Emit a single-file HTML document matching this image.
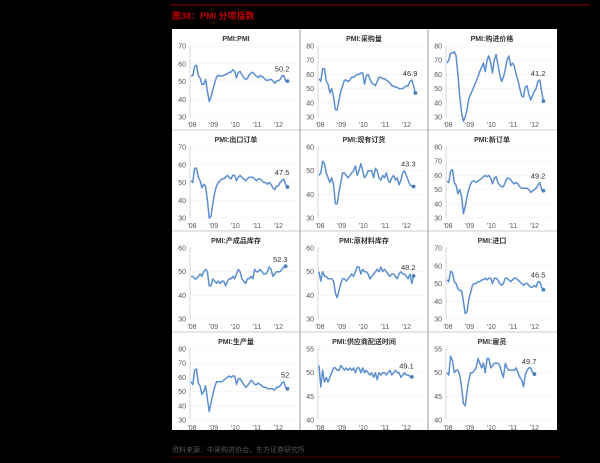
<!DOCTYPE html>
<html><head><meta charset="utf-8"><style>
body{margin:0;background:#000;width:600px;height:463px;overflow:hidden;font-family:"Liberation Sans","Noto Sans CJK SC",sans-serif}
</style></head><body>
<svg id="s" width="600" height="463" xmlns="http://www.w3.org/2000/svg" style="position:absolute;left:0;top:0">
<rect width="600" height="463" fill="#000"/>
<line x1="170" y1="5" x2="590" y2="5" stroke="#8b0000" stroke-width="1"/>
<text x="172" y="19" font-size="9" font-weight="bold" fill="#c00000" font-family="Liberation Sans,Noto Sans CJK SC,sans-serif">图38：PMI 分项指数</text>
<rect x="172" y="29" width="385" height="401" fill="#fff"/>
<text x="172" y="452" font-size="7" fill="#555" font-family="Liberation Sans,Noto Sans CJK SC,sans-serif">资料来源：中采购进协会、东方证券研究所</text>
<line x1="170" y1="457" x2="560" y2="457" stroke="#400" stroke-width="1"/>
<g id="g"></g>
</svg>
<script>
var P=[
["PMI:PMI",30,70,10,"50.2",[53,53.4,58.5,59.2,53.3,52,48.4,48.4,51.2,44.6,38.8,41.2,45.3,49,52.4,53.5,53.1,53.2,53.3,54,54.3,55.2,55.2,56.6,55.8,52,55.1,55.7,53.9,52.1,51.2,51.7,53.8,54.7,55.2,53.9,52.9,52.2,53.4,52.9,52,50.9,50.7,50.9,51.2,50.4,49,50.3,50.5,51,53.1,53.3,50.4,50.2]],
["PMI:采购量",30,80,10,"46.9",[57,55,64,64,55,53,47,50,44,35,35,42,48,52,56,56,55,56,58,58,59,60,60,61,61,53,59,60,57,54,53,52,55,58,58,57,57,56,55,54,52,52,51,51,50,50,50,51,52,52,55,56,52,46.9]],
["PMI:购进价格",30,80,10,"41.2",[68,70,75,75,76,73,60,45,33,27,30,35,43,46,49,52,55,58,62,65,68,62,70,73,68,61,70,74,67,60,55,58,63,70,73,66,68,66,60,56,50,45,44,51,52,46,42,45,48,50,55,56,48,41.2]],
["PMI:出口订单",30,70,10,"47.5",[51,50,58,58,53,51,47,49,48,40,30,31,38,44,48,50,51,52,52,53,54,53,52,54,54,51,53,54,53,52,51,52,53,53,53,52,51,52,52,51,50,50,49,50,49,47,46,48,48,50,51,52,49,47.5]],
["PMI:现有订货",30,60,10,"43.3",[48,49,54,53,49,47,45,47,44,36,36,41,45,49,49,48,47,48,49,50,52,48,50,53,50,47,48,50,50,50,47,51,50,47,46,48,47,49,46,45,47,48,46,47,44,46,49,50,48,46,44,43.5,43.3]],
["PMI:新订单",30,80,10,"49.2",[56,55,63,64,55,53,47,50,45,33,38,45,50,54,56,56,55,56,57,58,59,60,59,60,58,54,58,59,55,53,52,52,55,58,58,57,55,54,55,54,52,51,51,51,51,50,48,49,50,51,53,55,50,49.2]],
["PMI:产成品库存",30,60,10,"52.3",[48,48,47,47,48,49,48,50,51,50,44,44,47,46,45,46,45,46,46,44,46,47,47,48,47,49,51,50,47,46,45,47,47,48,47,51,50,50,51,50,49,49,50,52,51,48,49,50,50,50,51,52,52.3]],
["PMI:原材料库存",30,60,10,"48.2",[50,46,50,48,48,47,47,47,46,41,39,42,45,47,47,46,47,48,49,48,50,52,52,49,51,50,50,49,47,48,49,50,51,50,52,50,51,50,49,48,49,49,48,47,49,50,49,49,48,47,49,45,48.2]],
["PMI:进口",30,70,10,"46.5",[52,51,57,56,51,50,47,46,46,40,33,34,41,45,49,50,50,51,51,52,52,53,52,53,53,50,53,53,52,50,49,50,53,53,52,51,52,53,53,52,51,50,49,50,50,49,48,48,49,48,51,51,48,46.5]],
["PMI:生产量",30,80,10,"52",[57,55,65,66,56,54,48,50,54,45,36,42,48,53,57,57,57,57,58,59,60,61,60,61,61,55,59,59,57,55,53,54,56,58,57,55,55,56,55,54,53,53,52,52,52,52,51,53,53,54,56,57,53,52]],
["PMI:供应商配送时间",40,55,5,"49.1",[51.5,47,50.5,48,49,48,49,50,51,51,50.5,50.5,51.5,51,50.5,51,50.5,51,50.5,51,50,51,51,50,51,50,50.5,50,49.5,50,49,50,48.5,50,49.5,50,50,49.5,50,50.5,49.5,50,50.5,50,50,49,49.5,50,49.5,49.5,49.2,49.1]],
["PMI:雇员",40,55,5,"49.7",[50,49.5,53.5,52.5,50,50.5,50.5,49.5,47,43.5,43,46,48.5,50,50,50.5,51,53,52,51,52,50,53,53,51,51.5,52,52,52,51.5,50,49,52,51,50.5,50.5,50.5,50.5,51,50,49,48.5,47,49.5,50.5,51,51,50,49.7]]
];
var g=document.getElementById("g"),h="";
var colX=[172,300,428],rowY=[29,130,231,332];
P.forEach(function(p,i){
 var L=colX[i%3],T=rowY[Math.floor(i/3)];
 var ax=L+18,right=L+124,top=T+17,bot=T+88;
 var lo=p[1],hi=p[2],st=p[3];
 function Y(v){return bot-(v-lo)/(hi-lo)*(bot-top);}
 h+='<text x="'+(L+64)+'" y="'+(T+12)+'" font-size="7" font-weight="bold" text-anchor="middle" fill="#333">'+p[0]+'</text>';
 for(var v=lo;v<=hi+0.01;v+=st){var y=Y(v);
  h+='<line x1="'+ax+'" y1="'+y+'" x2="'+right+'" y2="'+y+'" stroke="#f0f0f0" stroke-width="0.6"/>';
  h+='<text x="'+(ax-4)+'" y="'+(y+2.5)+'" font-size="7" text-anchor="end" fill="#555">'+v+'</text>';}
 h+='<line x1="'+ax+'" y1="'+top+'" x2="'+ax+'" y2="'+bot+'" stroke="#bbb" stroke-width="0.6"/>';
 var yr=21.6;
 ["'08","'09","'10","'11","'12"].forEach(function(t,k){h+='<text x="'+(ax+2+k*yr)+'" y="'+(T+98)+'" font-size="7" text-anchor="middle" fill="#555">'+t+'</text>';});
 var d=p[5],n=d.length,pts=[];
 var x0=ax+1,x1=ax+2+4*yr+(n-49)*yr/12;
 d.forEach(function(v,k){pts.push((x0+k*(x1-x0)/(n-1)).toFixed(1)+","+Y(v).toFixed(1));});
 h+='<polyline points="'+pts.join(" ")+'" fill="none" stroke="#5b8fd0" stroke-width="1.5" stroke-linejoin="round"/>';
 var ly=Y(d[n-1]);
 h+='<circle cx="'+x1+'" cy="'+ly+'" r="1.9" fill="#4a7ebb"/>';
 h+='<text x="'+(x1+2)+'" y="'+(Math.min(ly,Y(Math.max.apply(null,d.slice(n-6))))-4)+'" font-size="7.5" text-anchor="end" fill="#333">'+p[4]+'</text>';
});
[1,2,3].forEach(function(r){h+='<line x1="172" y1="'+rowY[r]+'" x2="557" y2="'+rowY[r]+'" stroke="#ccc" stroke-width="1"/>';});
h+='<line x1="300" y1="29" x2="300" y2="430" stroke="#999" stroke-width="1"/><line x1="428" y1="29" x2="428" y2="430" stroke="#999" stroke-width="1"/>';
g.innerHTML=h;
</script>
</body></html>
